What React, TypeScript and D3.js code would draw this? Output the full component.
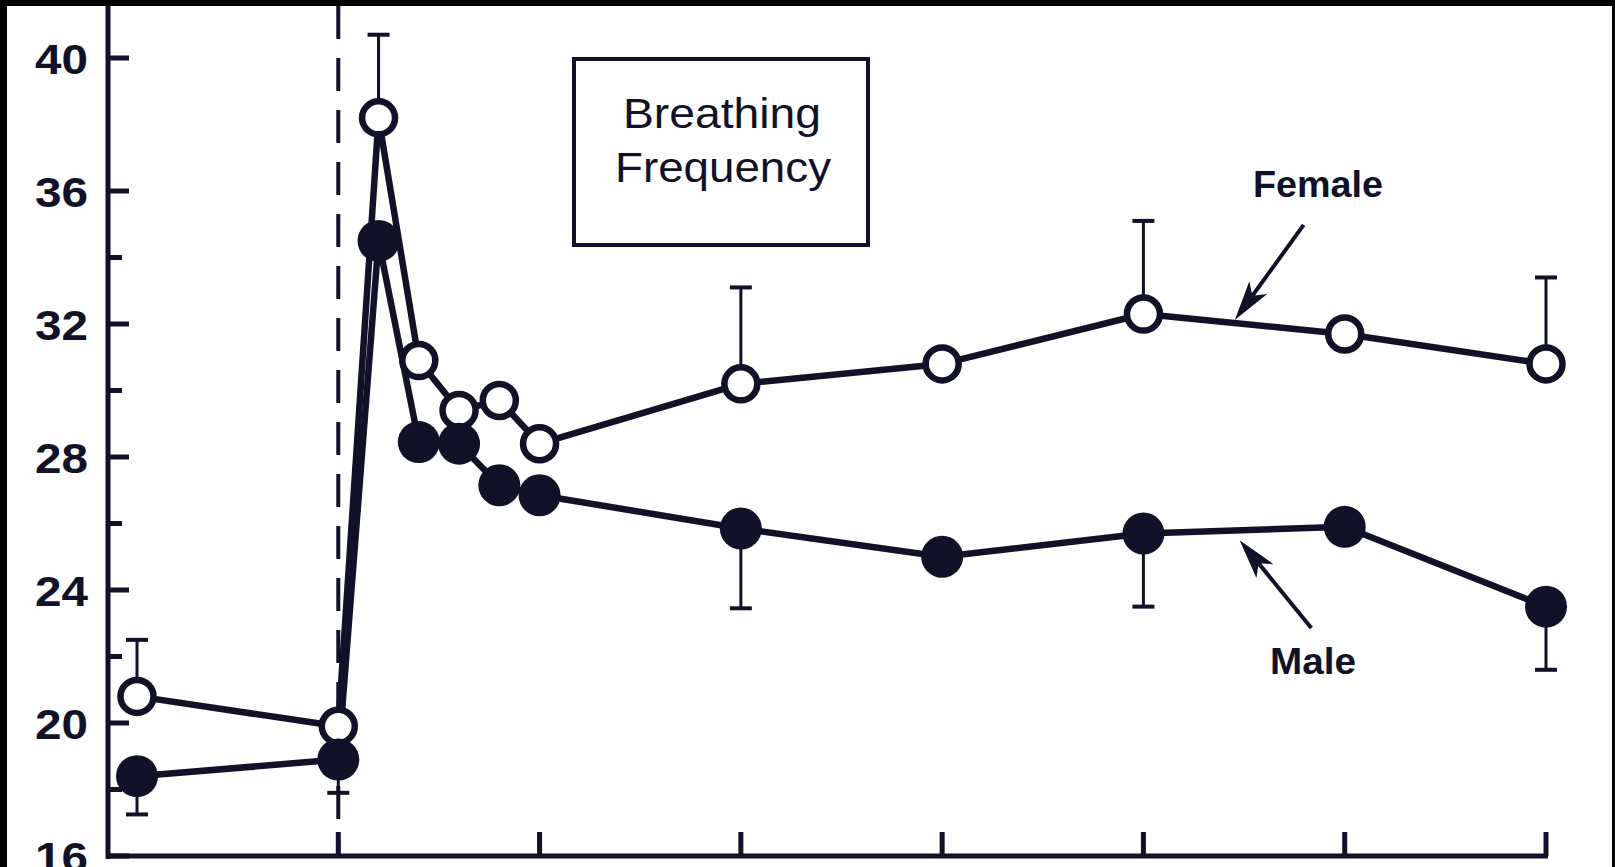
import React from "react";
import * as d3 from "d3";

const minutes = [-5, 0, 1, 2, 3, 4, 5, 10, 15, 20, 25, 30];
const female = [20.8, 19.9, 38.2, 30.9, 29.4, 29.7, 28.4, 30.2, 30.8, 32.3, 31.7, 30.8];
const male = [18.4, 18.9, 34.5, 28.45, 28.4, 27.15, 26.85, 25.85, 25.0, 25.7, 25.9, 23.5];
// error bars: [minute, end value]
const femaleErr: [number, number][] = [[-5, 22.5], [1, 40.7], [10, 33.1], [20, 35.1], [30, 33.4]];
const maleErr: [number, number][] = [[-5, 17.25], [0, 17.9], [10, 23.45], [20, 23.5], [30, 21.6]];
const yMajorTicks = [16, 20, 24, 28, 32, 36, 40];
const yMinorTicks = [18, 22, 26, 30, 34];
const xTicks = [0, 5, 10, 15, 20, 25, 30];
// annotation arrows: [tailMin, tailVal, tipMin, tipVal]
const femaleArrow = [23.98, 34.98, 22.27, 32.12];
const maleArrow = [24.17, 22.86, 22.39, 25.5];

const W = 1615;
const H = 867;
const INK = "#111128";

export default function App() {
  const x = d3.scaleLinear().domain([-5, 30]).range([137, 1546]);
  const y = d3.scaleLinear().domain([16, 40]).range([856, 58]);
  const axisX = 108;
  const axisY = 856;
  const line = d3
    .line<number>()
    .x((_, i) => x(minutes[i]))
    .y((d) => y(d));

  const arrow = (a: number[], key: string) => {
    const x1 = x(a[0]), y1 = y(a[1]), x2 = x(a[2]), y2 = y(a[3]);
    const ang = Math.atan2(y2 - y1, x2 - x1);
    const L = 40, hw = 11;
    const bx = x2 - L * Math.cos(ang), by = y2 - L * Math.sin(ang);
    const px = -Math.sin(ang) * hw, py = Math.cos(ang) * hw;
    const nx = x2 - (L - 10) * Math.cos(ang), ny = y2 - (L - 10) * Math.sin(ang);
    return (
      <g key={key}>
        <line x1={x1} y1={y1} x2={nx} y2={ny} stroke={INK} strokeWidth={4} />
        <polygon
          points={`${x2},${y2} ${bx + px},${by + py} ${nx},${ny} ${bx - px},${by - py}`}
          fill={INK}
        />
      </g>
    );
  };

  return (
    <svg
      width={W}
      height={H}
      style={{ position: "absolute", left: 0, top: 0, display: "block" }}
      fontFamily="'Liberation Sans', Arial, sans-serif"
    >
      <rect x={0} y={0} width={W} height={H} fill="#000" />
      <rect x={7} y={6} width={1605} height={H - 6} fill="#fefefe" />

      {/* dashed exercise-onset line */}
      <line
        x1={x(0)}
        x2={x(0)}
        y1={6}
        y2={axisY}
        stroke={INK}
        strokeWidth={4}
        strokeDasharray="33 19"
      />

      {/* axes */}
      <line x1={axisX} x2={axisX} y1={6} y2={axisY + 3} stroke={INK} strokeWidth={5} />
      <line x1={axisX} x2={x(30) + 2} y1={axisY} y2={axisY} stroke={INK} strokeWidth={5} />
      {yMajorTicks.map((t) => (
        <g key={"ym" + t}>
          <line x1={axisX} x2={axisX + 21} y1={y(t)} y2={y(t)} stroke={INK} strokeWidth={5} />
          <text
            x={88}
            y={y(t) + 1}
            textAnchor="end"
            dominantBaseline="central"
            fontSize={42}
            fontWeight="bold"
            fill={INK}
            textLength={53}
            lengthAdjust="spacingAndGlyphs"
          >
            {t}
          </text>
        </g>
      ))}
      {yMinorTicks.map((t) => (
        <line key={"yn" + t} x1={axisX} x2={axisX + 14} y1={y(t)} y2={y(t)} stroke={INK} strokeWidth={5} />
      ))}
      {xTicks.map((t) => (
        <line key={"xt" + t} x1={x(t)} x2={x(t)} y1={axisY} y2={axisY - 24} stroke={INK} strokeWidth={5} />
      ))}

      {/* title box */}
      <rect x={574} y={59} width={294} height={186} fill="none" stroke={INK} strokeWidth={4} />
      <text x={722} y={128} textAnchor="middle" fontSize={42} fill={INK} textLength={198} lengthAdjust="spacingAndGlyphs">
        Breathing
      </text>
      <text x={723} y={182} textAnchor="middle" fontSize={42} fill={INK} textLength={216} lengthAdjust="spacingAndGlyphs">
        Frequency
      </text>

      {/* error bars */}
      {femaleErr.map(([m, v], i) => {
        const yi = y(female[minutes.indexOf(m)]);
        return (
          <g key={"fe" + i}>
            <line x1={x(m)} x2={x(m)} y1={yi} y2={y(v)} stroke={INK} strokeWidth={3} />
            <line x1={x(m) - 11} x2={x(m) + 11} y1={y(v)} y2={y(v)} stroke={INK} strokeWidth={4} />
          </g>
        );
      })}
      {maleErr.map(([m, v], i) => {
        const yi = y(male[minutes.indexOf(m)]);
        return (
          <g key={"me" + i}>
            <line x1={x(m)} x2={x(m)} y1={yi} y2={y(v)} stroke={INK} strokeWidth={3} />
            <line x1={x(m) - 11} x2={x(m) + 11} y1={y(v)} y2={y(v)} stroke={INK} strokeWidth={4} />
          </g>
        );
      })}

      {/* lines */}
      <path d={line(male) || ""} fill="none" stroke={INK} strokeWidth={6.5} strokeLinejoin="round" />
      <path d={line(female) || ""} fill="none" stroke={INK} strokeWidth={6.5} strokeLinejoin="round" />

      {/* markers */}
      {female.map((v, i) => (
        <circle key={"fc" + i} cx={x(minutes[i])} cy={y(v)} r={16.5} fill="#fefefe" stroke={INK} strokeWidth={6.5} />
      ))}
      {male.map((v, i) => (
        <circle key={"mc" + i} cx={x(minutes[i])} cy={y(v)} r={21} fill={INK} />
      ))}

      {/* annotations */}
      {arrow(femaleArrow, "fa")}
      {arrow(maleArrow, "ma")}
      <text x={1318} y={197} textAnchor="middle" fontSize={36} fontWeight="bold" fill={INK} textLength={130} lengthAdjust="spacingAndGlyphs">
        Female
      </text>
      <text x={1313} y={674} textAnchor="middle" fontSize={36} fontWeight="bold" fill={INK} textLength={86} lengthAdjust="spacingAndGlyphs">
        Male
      </text>
    </svg>
  );
}
